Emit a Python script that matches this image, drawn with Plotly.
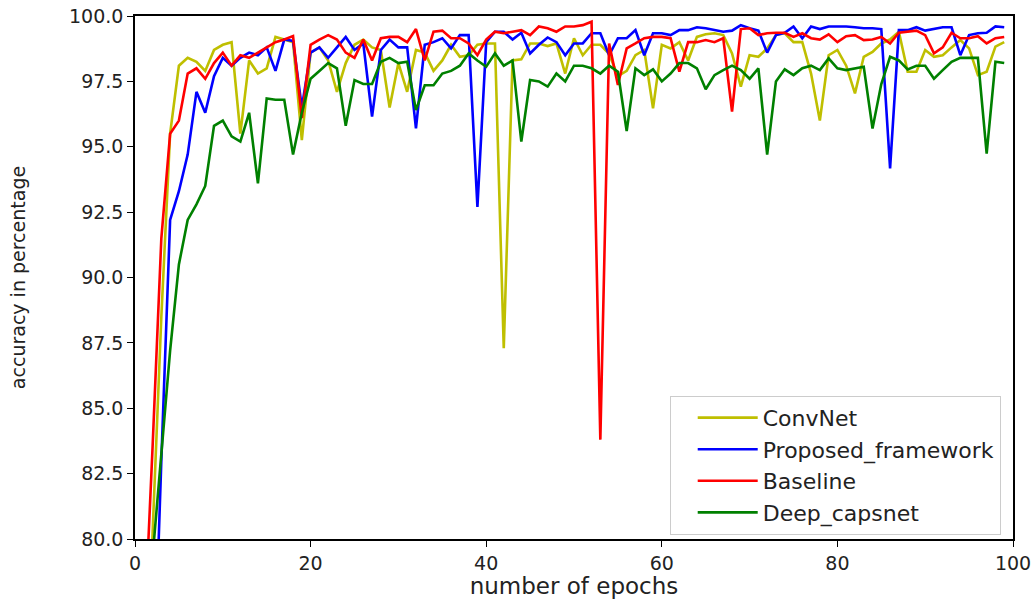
import plotly.graph_objects as go

epochs = list(range(0, 100))

convnet = [60, 70, 80.2, 88.5, 95.5, 98.1, 98.4, 98.25, 97.9, 98.7,
           98.9, 99.0, 95.5, 98.3, 97.8, 98.0, 99.2, 99.1, 99.0, 95.25,
           98.6, 98.8, 98.3, 97.1, 98.2, 98.9, 99.1, 98.8, 98.7, 96.5,
           98.2, 97.1, 98.7, 98.6, 97.9, 98.3, 98.9, 98.44, 98.5, 98.9,
           98.95, 98.95, 87.3, 98.3, 98.34, 98.95, 98.95, 98.85, 98.95, 97.8,
           99.15, 98.5, 98.9, 98.9, 98.55, 97.7, 97.9, 98.5, 98.7, 96.47,
           98.9, 98.76, 99.0, 98.3, 99.2, 99.3, 99.34, 99.27, 98.57, 97.3,
           98.5, 98.44, 98.76, 99.27, 99.34, 99.0, 99.0, 97.8, 96.0, 98.5,
           98.7, 98.1, 97.04, 98.44, 98.63, 98.95, 99.1, 99.4, 97.87, 97.87,
           98.7, 98.44, 98.5, 98.8, 99.08, 98.76, 97.74, 97.87, 98.83, 99.0]

proposed = [50, 62, 73, 83, 92.2, 93.3, 94.7, 97.1, 96.3, 97.7,
            98.4, 98.1, 98.4, 98.6, 98.5, 98.8, 97.9, 99.1, 99.05, 96.5,
            98.6, 98.8, 98.4, 98.8, 99.2, 98.7, 98.95, 96.15, 98.7, 99.1,
            98.8, 98.8, 95.7, 98.9, 99.0, 99.15, 98.76, 99.27, 99.27, 92.7,
            99.0, 99.4, 99.4, 99.1, 99.36, 98.57, 98.9, 99.18, 99.0, 98.5,
            98.95, 98.95, 99.34, 99.34, 98.5, 99.15, 99.15, 99.46, 98.5, 99.34,
            99.34, 99.27, 99.46, 99.46, 99.57, 99.53, 99.46, 99.4, 99.44, 99.65,
            99.53, 99.44, 98.6, 99.27, 99.36, 99.6, 99.15, 99.6, 99.5, 99.6,
            99.6, 99.6, 99.57, 99.53, 99.53, 99.5, 94.17, 99.46, 99.46, 99.57,
            99.44, 99.5, 99.57, 99.57, 98.5, 99.27, 99.34, 99.36, 99.6, 99.57]

baseline = [55, 76, 83.5, 91.5, 95.5, 96.0, 97.8, 98.0, 97.6, 98.2,
            98.6, 98.1, 98.5, 98.4, 98.6, 98.8, 99.0, 99.1, 99.23, 96.1,
            98.9, 99.1, 99.27, 99.1, 98.6, 98.4, 99.1, 98.3, 99.15, 99.2,
            99.2, 99.0, 99.5, 98.3, 99.4, 99.44, 99.15, 99.15, 98.95, 98.5,
            99.1, 99.4, 99.34, 99.4, 99.46, 99.27, 99.6, 99.53, 99.4, 99.6,
            99.6, 99.65, 99.78, 83.8, 98.95, 97.36, 98.76, 98.95, 99.15, 99.2,
            99.2, 99.15, 97.87, 99.0, 99.0, 99.08, 99.0, 99.15, 96.34, 99.5,
            99.53, 99.27, 99.34, 99.36, 99.36, 99.2, 99.34, 99.15, 99.1, 99.3,
            99.0, 99.23, 99.27, 99.08, 99.1, 99.2, 98.95, 99.36, 99.4, 99.44,
            99.27, 98.57, 98.8, 99.36, 99.15, 99.15, 99.23, 98.95, 99.15, 99.2]

deep_capsnet = [50, 70, 79.3, 83.2, 87.2, 90.5, 92.2, 92.8, 93.5, 95.8,
                96.0, 95.4, 95.2, 96.3, 93.6, 96.85, 96.8, 96.8, 94.7, 96.3,
                97.6, 97.9, 98.2, 98.0, 95.8, 97.55, 97.4, 97.4, 98.25, 98.4,
                98.2, 98.25, 96.4, 97.35, 97.35, 97.8, 97.9, 98.1, 98.57, 98.3,
                98.06, 98.57, 98.1, 98.3, 95.2, 97.55, 97.5, 97.3, 97.8, 97.5,
                98.1, 98.1, 98.0, 97.8, 98.1, 97.87, 95.6, 98.0, 97.74, 97.96,
                97.5, 97.8, 98.2, 98.2, 98.0, 97.2, 97.74, 97.93, 98.1, 97.93,
                97.6, 98.0, 94.7, 97.5, 97.96, 97.74, 98.0, 98.1, 97.93, 98.38,
                98.0, 97.93, 98.0, 98.06, 95.7, 97.4, 98.44, 98.3, 97.96, 98.1,
                98.1, 97.6, 97.93, 98.25, 98.4, 98.4, 98.4, 94.74, 98.25, 98.2]

series_names = ["ConvNet", "Proposed_framework", "Baseline", "Deep_capsnet"]
series_colors = ["#bfbf00", "#0000ff", "#ff0000", "#008000"]
series_values = [convnet, proposed, baseline, deep_capsnet]

x_ticks = [0, 20, 40, 60, 80, 100]
y_ticks = [80.0, 82.5, 85.0, 87.5, 90.0, 92.5, 95.0, 97.5, 100.0]

fig = go.Figure()
for name, color, vals in zip(series_names, series_colors, series_values):
    fig.add_trace(go.Scatter(x=epochs, y=vals, mode="lines", name=name,
                             line=dict(color=color, width=2.6)))

font_family = "DejaVu Sans"
fig.update_layout(
    width=1036, height=599,
    margin=dict(l=135, r=23, t=16, b=60),
    plot_bgcolor="white", paper_bgcolor="white",
    font=dict(family=font_family, size=19, color="#222222"),
    showlegend=True,
    legend=dict(x=0.986, y=0.008, xanchor="right", yanchor="bottom",
                bgcolor="white", bordercolor="#cccccc", borderwidth=1,
                font=dict(family=font_family, size=22, color="#222222"),
                itemwidth=60, tracegroupgap=0, indentation=22),
)
fig.update_xaxes(range=[0, 100], tickvals=x_ticks, ticktext=[str(t) for t in x_ticks],
                 showgrid=False, zeroline=False, showline=True, linecolor="black",
                 linewidth=1.5, mirror=True, ticks="outside", ticklen=6, tickcolor="black",
                 automargin=False,
                 title=dict(text="number of epochs", font=dict(size=23), standoff=6))
fig.update_yaxes(range=[80, 100], tickvals=y_ticks, ticktext=[f"{t:.1f}" for t in y_ticks],
                 showgrid=False, zeroline=False, showline=True, linecolor="black",
                 linewidth=1.5, mirror=True, ticks="outside", ticklen=6, tickcolor="black",
                 automargin=False,
                 title=dict(text="accuracy in percentage", font=dict(size=19), standoff=38))

fig.write_html("out.html")
